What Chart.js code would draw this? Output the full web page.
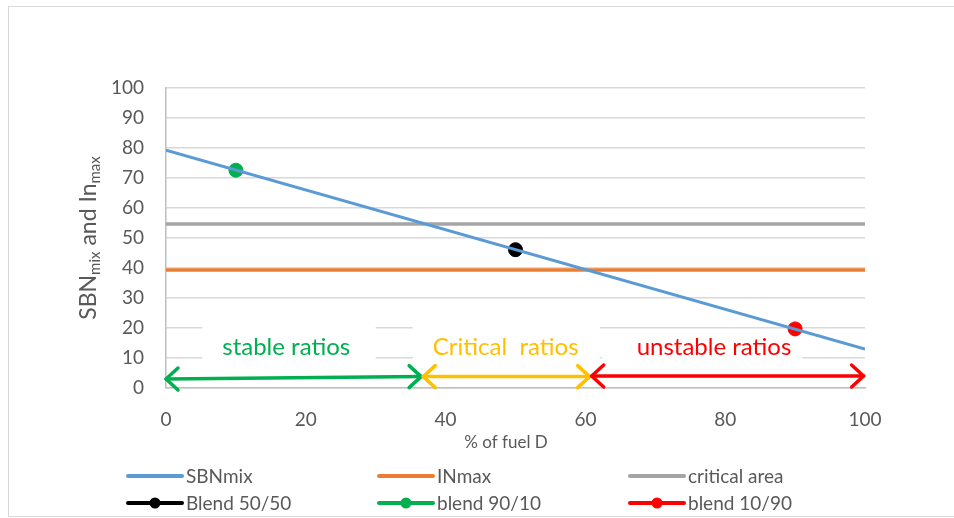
<!DOCTYPE html>
<html>
<head>
<meta charset="utf-8">
<script src="https://cdn.jsdelivr.net/npm/chart.js@4"></script>
<style>
  body { margin: 0; background: #fff; }
  canvas { display: block; }
</style>
</head>
<body>
<canvas id="chart" width="954" height="518"></canvas>
<script>
// values
const fuelD = [0, 100];
const sbnMix = [79.3, 13.0];
const inMax = [39.3, 39.3];
const criticalArea = [54.7, 54.7];
const blendNames = ['Blend 50/50', 'blend 90/10', 'blend 10/90'];
const blendFuelD = [50, 10, 90];
const blendSbn = [46.1, 72.6, 19.7];
const blendColors = ['#000000', '#00B050', '#FF0000'];

// range annotations (in axis units)
const zoneLabels = ['stable ratios', 'Critical  ratios', 'unstable ratios'];
const zoneColors = ['#00B050', '#FFC000', '#FF0000'];
const zoneTextX = [17.2, 48.6, 78.4];
const zoneTextY = [13.6, 13.6, 13.6];
const zoneBoxX0 = [5.2, 35.3, 62.4];
const zoneBoxX1 = [30.0, 62.1, 91.0];
const zoneBoxY0 = [6.0, 6.0, 6.0];
const zoneBoxY1 = [20.7, 20.7, 19.2];
const arrowX0 = [0, 36.8, 60.9];
const arrowX1 = [36.5, 60.6, 99.8];
const arrowY0 = [3.0, 3.8, 4.0];
const arrowY1 = [3.8, 3.8, 4.0];

const TXT = '#595959';
Chart.defaults.font.family = 'Lato';

function pts(xs, ys) {
  return xs.map((x, i) => ({ x: x, y: ys[i] }));
}

const datasets = [
  { label: 'SBNmix', data: pts(fuelD, sbnMix), borderColor: '#5B9BD5', backgroundColor: '#5B9BD5', showLine: true, pointRadius: 0, borderWidth: 3 },
  { label: 'INmax', data: pts(fuelD, inMax), borderColor: '#ED7D31', backgroundColor: '#ED7D31', showLine: true, pointRadius: 0, borderWidth: 3.5 },
  { label: 'critical area', data: pts(fuelD, criticalArea), borderColor: '#A5A5A5', backgroundColor: '#A5A5A5', showLine: true, pointRadius: 0, borderWidth: 3.5 }
];
blendNames.forEach((name, i) => {
  datasets.push({
    label: name,
    data: [{ x: blendFuelD[i], y: blendSbn[i] }],
    borderColor: blendColors[i],
    backgroundColor: blendColors[i],
    pointRadius: 7,
    pointHoverRadius: 7,
    marker: true
  });
});

function arrowHead(ctx, x, y, dir) {
  ctx.beginPath();
  ctx.moveTo(x - dir * 12, y - 11);
  ctx.lineTo(x, y);
  ctx.lineTo(x - dir * 12, y + 11);
  ctx.stroke();
}

const zonesPlugin = {
  id: 'zones',
  beforeDatasetsDraw(chart) {
    const { ctx, scales: { x, y } } = chart;
    ctx.save();
    ctx.fillStyle = '#ffffff';
    for (let i = 0; i < zoneLabels.length; i++) {
      const l = x.getPixelForValue(zoneBoxX0[i]);
      const r = x.getPixelForValue(zoneBoxX1[i]);
      const t = y.getPixelForValue(zoneBoxY1[i]);
      const b = y.getPixelForValue(zoneBoxY0[i]);
      ctx.fillRect(l, t, r - l, b - t);
    }
    ctx.restore();
  },
  afterDatasetsDraw(chart) {
    const { ctx, scales: { x, y } } = chart;
    ctx.save();
    ctx.lineWidth = 3.5;
    ctx.lineCap = 'round';
    ctx.lineJoin = 'round';
    for (let i = 0; i < zoneLabels.length; i++) {
      const x0 = x.getPixelForValue(arrowX0[i]);
      const x1 = x.getPixelForValue(arrowX1[i]);
      const y0 = y.getPixelForValue(arrowY0[i]);
      const y1 = y.getPixelForValue(arrowY1[i]);
      ctx.strokeStyle = zoneColors[i];
      ctx.beginPath();
      ctx.moveTo(x0, y0);
      ctx.lineTo(x1, y1);
      ctx.stroke();
      arrowHead(ctx, x0, y0, -1);
      arrowHead(ctx, x1, y1, 1);

      ctx.fillStyle = zoneColors[i];
      ctx.font = '24px Lato';
      ctx.textAlign = 'center';
      ctx.textBaseline = 'middle';
      ctx.fillText(zoneLabels[i], x.getPixelForValue(zoneTextX[i]), y.getPixelForValue(zoneTextY[i]));
    }
    ctx.restore();
  },
  afterDraw(chart) {
    const { ctx } = chart;
    ctx.save();
    // chart frame
    ctx.strokeStyle = '#d9d9d9';
    ctx.lineWidth = 1;
    ctx.strokeRect(8.5, 6.5, 960, 510);

    // x title
    ctx.fillStyle = TXT;
    ctx.font = '17px Lato';
    ctx.textAlign = 'center';
    ctx.textBaseline = 'middle';
    ctx.fillText('% of fuel D', 506, 443);

    // y title with subscripts
    const parts = [['SBN', false], ['mix', true], [' and In', false], ['max', true]];
    const big = '23px Lato', small = '15px Lato';
    let total = 0;
    parts.forEach(p => { ctx.font = p[1] ? small : big; total += ctx.measureText(p[0]).width; });
    ctx.translate(88, 238);
    ctx.rotate(-Math.PI / 2);
    ctx.textAlign = 'left';
    ctx.textBaseline = 'alphabetic';
    let cx = -total / 2;
    parts.forEach(p => {
      ctx.font = p[1] ? small : big;
      ctx.fillText(p[0], cx, p[1] ? 12 : 8);
      cx += ctx.measureText(p[0]).width;
    });
    ctx.restore();

    // legend, 3 columns x 2 rows
    ctx.save();
    ctx.font = '19px Lato';
    ctx.textBaseline = 'middle';
    ctx.textAlign = 'left';
    chart.data.datasets.forEach((ds, i) => {
      const col = i % 3, row = Math.floor(i / 3);
      const lx = 128 + col * 251;
      const ly = 476 + row * 27;
      ctx.strokeStyle = ds.borderColor;
      ctx.lineWidth = 4;
      ctx.lineCap = 'round';
      ctx.beginPath();
      ctx.moveTo(lx, ly);
      ctx.lineTo(lx + 54, ly);
      ctx.stroke();
      if (ds.marker) {
        ctx.fillStyle = ds.backgroundColor;
        ctx.beginPath();
        ctx.arc(lx + 27, ly, 5.5, 0, Math.PI * 2);
        ctx.fill();
      }
      ctx.fillStyle = TXT;
      ctx.fillText(ds.label, lx + 58, ly + 1);
    });
    ctx.restore();
  }
};

new Chart(document.getElementById('chart'), {
  type: 'scatter',
  data: { datasets: datasets },
  options: {
    responsive: false,
    devicePixelRatio: 1,
    animation: false,
    layout: { padding: { left: 0, top: 88, right: 89, bottom: 0 } },
    plugins: { legend: { display: false }, tooltip: { enabled: false } },
    scales: {
      x: {
        type: 'linear',
        min: 0,
        max: 100,
        ticks: { stepSize: 20, color: TXT, font: { size: 19 }, padding: 20 },
        grid: { display: false, drawTicks: false },
        border: { display: true, color: '#bfbfbf', width: 1.5 },
        afterFit(scale) { scale.height = 130; }
      },
      y: {
        min: 0,
        max: 100,
        ticks: { stepSize: 10, color: TXT, font: { size: 19 }, padding: 22 },
        grid: { color: '#d9d9d9', lineWidth: 1.5, drawTicks: false },
        border: { display: true, color: '#bfbfbf', width: 1.5 },
        afterFit(scale) { scale.width = 166; }
      }
    }
  },
  plugins: [zonesPlugin]
});
</script>
</body>
</html>
